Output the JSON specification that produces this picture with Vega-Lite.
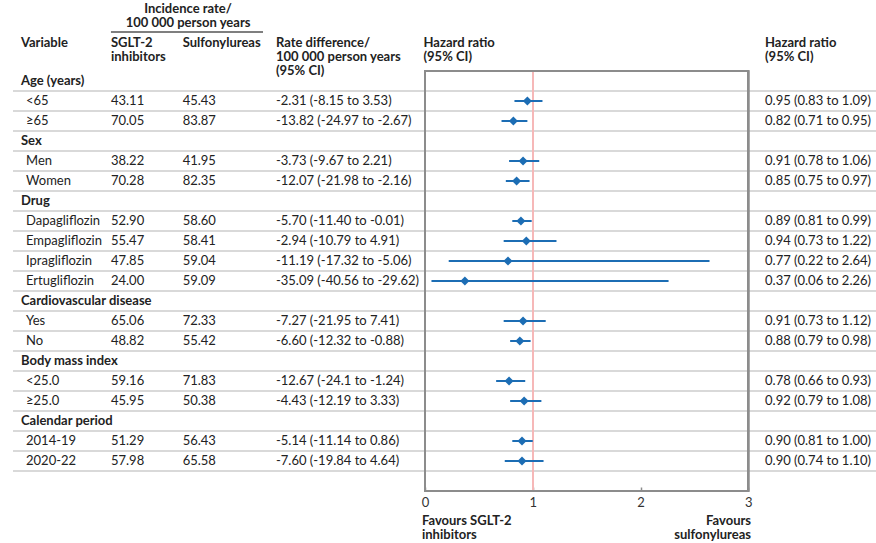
{
  "$schema": "https://vega.github.io/schema/vega-lite/v6.json",
  "width": 876,
  "height": 420,
  "autosize": {"type": "none"},
  "padding": {"top": 71, "bottom": 52, "left": 0, "right": 0},
  "background": "white",
  "datasets": {
    "rows": [
      {"label": "Age (years)", "kind": "group"},
      {"label": "<65", "kind": "sub", "sglt": 43.11, "sulf": 45.43, "rd": "-2.31 (-8.15 to 3.53)", "hrci": "0.95 (0.83 to 1.09)", "hr": 0.95, "lo": 0.83, "hi": 1.09},
      {"label": "≥65", "kind": "sub", "sglt": 70.05, "sulf": 83.87, "rd": "-13.82 (-24.97 to -2.67)", "hrci": "0.82 (0.71 to 0.95)", "hr": 0.82, "lo": 0.71, "hi": 0.95},
      {"label": "Sex", "kind": "group"},
      {"label": "Men", "kind": "sub", "sglt": 38.22, "sulf": 41.95, "rd": "-3.73 (-9.67 to 2.21)", "hrci": "0.91 (0.78 to 1.06)", "hr": 0.91, "lo": 0.78, "hi": 1.06},
      {"label": "Women", "kind": "sub", "sglt": 70.28, "sulf": 82.35, "rd": "-12.07 (-21.98 to -2.16)", "hrci": "0.85 (0.75 to 0.97)", "hr": 0.85, "lo": 0.75, "hi": 0.97},
      {"label": "Drug", "kind": "group"},
      {"label": "Dapagliflozin", "kind": "sub", "sglt": 52.90, "sulf": 58.60, "rd": "-5.70 (-11.40 to -0.01)", "hrci": "0.89 (0.81 to 0.99)", "hr": 0.89, "lo": 0.81, "hi": 0.99},
      {"label": "Empagliflozin", "kind": "sub", "sglt": 55.47, "sulf": 58.41, "rd": "-2.94 (-10.79 to 4.91)", "hrci": "0.94 (0.73 to 1.22)", "hr": 0.94, "lo": 0.73, "hi": 1.22},
      {"label": "Ipragliflozin", "kind": "sub", "sglt": 47.85, "sulf": 59.04, "rd": "-11.19 (-17.32 to -5.06)", "hrci": "0.77 (0.22 to 2.64)", "hr": 0.77, "lo": 0.22, "hi": 2.64},
      {"label": "Ertugliflozin", "kind": "sub", "sglt": 24.00, "sulf": 59.09, "rd": "-35.09 (-40.56 to -29.62)", "hrci": "0.37 (0.06 to 2.26)", "hr": 0.37, "lo": 0.06, "hi": 2.26},
      {"label": "Cardiovascular disease", "kind": "group"},
      {"label": "Yes", "kind": "sub", "sglt": 65.06, "sulf": 72.33, "rd": "-7.27 (-21.95 to 7.41)", "hrci": "0.91 (0.73 to 1.12)", "hr": 0.91, "lo": 0.73, "hi": 1.12},
      {"label": "No", "kind": "sub", "sglt": 48.82, "sulf": 55.42, "rd": "-6.60 (-12.32 to -0.88)", "hrci": "0.88 (0.79 to 0.98)", "hr": 0.88, "lo": 0.79, "hi": 0.98},
      {"label": "Body mass index", "kind": "group"},
      {"label": "<25.0", "kind": "sub", "sglt": 59.16, "sulf": 71.83, "rd": "-12.67 (-24.1 to -1.24)", "hrci": "0.78 (0.66 to 0.93)", "hr": 0.78, "lo": 0.66, "hi": 0.93},
      {"label": "≥25.0", "kind": "sub", "sglt": 45.95, "sulf": 50.38, "rd": "-4.43 (-12.19 to 3.33)", "hrci": "0.92 (0.79 to 1.08)", "hr": 0.92, "lo": 0.79, "hi": 1.08},
      {"label": "Calendar period", "kind": "group"},
      {"label": "2014-19", "kind": "sub", "sglt": 51.29, "sulf": 56.43, "rd": "-5.14 (-11.14 to 0.86)", "hrci": "0.90 (0.81 to 1.00)", "hr": 0.90, "lo": 0.81, "hi": 1.00},
      {"label": "2020-22", "kind": "sub", "sglt": 57.98, "sulf": 65.58, "rd": "-7.60 (-19.84 to 4.64)", "hrci": "0.90 (0.74 to 1.10)", "hr": 0.90, "lo": 0.74, "hi": 1.10}
    ]
  },
  "data": {"name": "rows"},
  "layer": [
    {
      "mark": {"type": "rule", "color": "#cccccc", "strokeWidth": 1.5},
      "encoding": {
        "y": {"field": "label", "type": "nominal", "bandPosition": 1, "axis": null,
              "scale": {"type": "band", "paddingInner": 0, "paddingOuter": 0, "range": [-80, 460],
                        "domain": ["hdr0", "hdrA", "hdrB", "hdrC", "Age (years)", "<65", "≥65", "Sex", "Men", "Women", "Drug", "Dapagliflozin", "Empagliflozin", "Ipragliflozin", "Ertugliflozin", "Cardiovascular disease", "Yes", "No", "Body mass index", "<25.0", "≥25.0", "Calendar period", "2014-19", "2020-22", "blank", "ftrA", "ftrB"]}},
        "x": {"datum": -3.823, "type": "quantitative",
              "scale": {"domain": [-3.9436, 4.1848], "nice": false, "zero": false}},
        "x2": {"datum": 4.1848}
      }
    },
    {
      "mark": {"type": "rule", "color": "#f6b8b8", "strokeWidth": 1.5},
      "encoding": {"x": {"datum": 1, "type": "quantitative"}}
    },
    {
      "mark": {"type": "rect", "fill": "white", "fillOpacity": 0, "stroke": "#8c8c8c", "strokeWidth": 1.5},
      "encoding": {"x": {"datum": 0, "type": "quantitative"}, "x2": {"datum": 3}}
    },
    {
      "transform": [{"filter": "datum.kind == 'sub'"}],
      "mark": {"type": "rule", "color": "#1c6db4", "strokeWidth": 2},
      "encoding": {
        "y": {"field": "label", "type": "nominal", "axis": null},
        "x": {"field": "lo", "type": "quantitative", "title": null},
        "x2": {"field": "hi"}
      }
    },
    {
      "transform": [{"filter": "datum.kind == 'sub'"}],
      "mark": {"type": "point", "shape": "diamond", "filled": true, "size": 82, "color": "#1c6db4", "opacity": 1},
      "encoding": {
        "y": {"field": "label", "type": "nominal", "axis": null},
        "x": {"field": "hr", "type": "quantitative", "title": null,
              "axis": {"values": [0, 1, 2, 3], "title": null, "domain": false, "grid": false, "ticks": true, "tickSize": -4, "tickColor": "#8c8c8c", "tickWidth": 1.5, "labelPadding": 9, "labelFont": "Lato", "labelFontSize": 13, "labelColor": "#333333", "format": "d"}}
      }
    },
    {
      "transform": [{"filter": "datum.kind == 'group'"}],
      "mark": {"type": "text", "fontWeight": "bold"},
      "encoding": {
        "y": {"field": "label", "type": "nominal", "axis": null},
        "x": {"datum": -3.749, "type": "quantitative"},
        "text": {"field": "label", "type": "nominal"}
      }
    },
    {
      "transform": [{"filter": "datum.kind == 'sub'"}],
      "mark": {"type": "text"},
      "encoding": {
        "y": {"field": "label", "type": "nominal", "axis": null},
        "x": {"datum": -3.702, "type": "quantitative"},
        "text": {"field": "label", "type": "nominal"}
      }
    },
    {
      "transform": [{"filter": "datum.kind == 'sub'"}],
      "mark": {"type": "text"},
      "encoding": {
        "y": {"field": "label", "type": "nominal", "axis": null},
        "x": {"datum": -2.914, "type": "quantitative"},
        "text": {"field": "sglt", "type": "quantitative", "format": ".2f"}
      }
    },
    {
      "transform": [{"filter": "datum.kind == 'sub'"}],
      "mark": {"type": "text"},
      "encoding": {
        "y": {"field": "label", "type": "nominal", "axis": null},
        "x": {"datum": -2.249, "type": "quantitative"},
        "text": {"field": "sulf", "type": "quantitative", "format": ".2f"}
      }
    },
    {
      "transform": [{"filter": "datum.kind == 'sub'"}],
      "mark": {"type": "text"},
      "encoding": {
        "y": {"field": "label", "type": "nominal", "axis": null},
        "x": {"datum": -1.383, "type": "quantitative"},
        "text": {"field": "rd", "type": "nominal"}
      }
    },
    {
      "transform": [{"filter": "datum.kind == 'sub'"}],
      "mark": {"type": "text"},
      "encoding": {
        "y": {"field": "label", "type": "nominal", "axis": null},
        "x": {"datum": 3.155, "type": "quantitative"},
        "text": {"field": "hrci", "type": "nominal"}
      }
    },
    {
      "data": {"values": [{"t": "Incidence rate/\n100 000 person years"}]},
      "mark": {"type": "text", "fontWeight": "bold", "align": "center", "baseline": "line-top"},
      "encoding": {
        "y": {"datum": "hdr0", "type": "nominal", "bandPosition": 0.55, "axis": null},
        "x": {"datum": -2.199, "type": "quantitative"},
        "text": {"field": "t", "type": "nominal"}
      }
    },
    {
      "data": {"values": [{"t": "underline"}]},
      "mark": {"type": "rule", "color": "#555555", "strokeWidth": 1.5},
      "encoding": {
        "y": {"datum": "hdrB", "type": "nominal", "bandPosition": 0.05, "axis": null},
        "x": {"datum": -2.914, "type": "quantitative"},
        "x2": {"datum": -1.503}
      }
    },
    {
      "data": {"values": [{"t": "Variable"}]},
      "mark": {"type": "text", "fontWeight": "bold", "baseline": "line-top"},
      "encoding": {
        "y": {"datum": "hdrB", "type": "nominal", "bandPosition": 0.27, "axis": null},
        "x": {"datum": -3.749, "type": "quantitative"},
        "text": {"field": "t", "type": "nominal"}
      }
    },
    {
      "data": {"values": [{"t": "SGLT-2\ninhibitors"}]},
      "mark": {"type": "text", "fontWeight": "bold", "baseline": "line-top"},
      "encoding": {
        "y": {"datum": "hdrB", "type": "nominal", "bandPosition": 0.27, "axis": null},
        "x": {"datum": -2.914, "type": "quantitative"},
        "text": {"field": "t", "type": "nominal"}
      }
    },
    {
      "data": {"values": [{"t": "Sulfonylureas"}]},
      "mark": {"type": "text", "fontWeight": "bold", "baseline": "line-top"},
      "encoding": {
        "y": {"datum": "hdrB", "type": "nominal", "bandPosition": 0.27, "axis": null},
        "x": {"datum": -2.249, "type": "quantitative"},
        "text": {"field": "t", "type": "nominal"}
      }
    },
    {
      "data": {"values": [{"t": "Rate difference/\n100 000 person years\n(95% CI)"}]},
      "mark": {"type": "text", "fontWeight": "bold", "baseline": "line-top"},
      "encoding": {
        "y": {"datum": "hdrB", "type": "nominal", "bandPosition": 0.27, "axis": null},
        "x": {"datum": -1.383, "type": "quantitative"},
        "text": {"field": "t", "type": "nominal"}
      }
    },
    {
      "data": {"values": [{"t": "Hazard ratio\n(95% CI)"}]},
      "mark": {"type": "text", "fontWeight": "bold", "baseline": "line-top"},
      "encoding": {
        "y": {"datum": "hdrB", "type": "nominal", "bandPosition": 0.27, "axis": null},
        "x": {"datum": -0.014, "type": "quantitative"},
        "text": {"field": "t", "type": "nominal"}
      }
    },
    {
      "data": {"values": [{"t": "Hazard ratio\n(95% CI)"}]},
      "mark": {"type": "text", "fontWeight": "bold", "baseline": "line-top"},
      "encoding": {
        "y": {"datum": "hdrB", "type": "nominal", "bandPosition": 0.27, "axis": null},
        "x": {"datum": 3.155, "type": "quantitative"},
        "text": {"field": "t", "type": "nominal"}
      }
    },
    {
      "data": {"values": [{"t": "Favours SGLT-2\ninhibitors"}]},
      "mark": {"type": "text", "fontWeight": "bold", "baseline": "line-top"},
      "encoding": {
        "y": {"datum": "ftrB", "type": "nominal", "bandPosition": 0.15, "axis": null},
        "x": {"datum": -0.028, "type": "quantitative"},
        "text": {"field": "t", "type": "nominal"}
      }
    },
    {
      "data": {"values": [{"t": "Favours\nsulfonylureas"}]},
      "mark": {"type": "text", "fontWeight": "bold", "baseline": "line-top", "align": "right"},
      "encoding": {
        "y": {"datum": "ftrB", "type": "nominal", "bandPosition": 0.15, "axis": null},
        "x": {"datum": 3.025, "type": "quantitative"},
        "text": {"field": "t", "type": "nominal"}
      }
    }
  ],
  "config": {
    "view": {"stroke": null},
    "text": {"font": "Lato", "fontSize": 13, "color": "#222222", "align": "left", "baseline": "middle", "lineBreak": "\n", "lineHeight": 14},
    "axis": {"labelFont": "Lato"}
  }
}
